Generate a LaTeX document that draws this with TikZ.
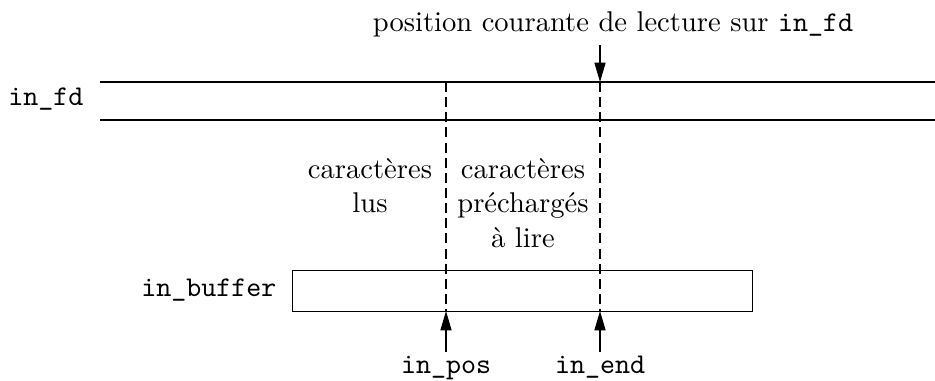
\documentclass[tikz,border=0pt]{standalone}
\usetikzlibrary{arrows.meta}
\begin{document}
\begin{tikzpicture}[x=0.35pt,y=-0.35pt,
  lbl/.style={inner sep=0pt,font=\ttfamily},
  txt/.style={inner sep=0pt,align=center},
  ptr/.style={-{Triangle[length=6.8pt,width=3.9pt]}},
  guide/.style={dash pattern=on 3.5pt off 1.8pt}]
\useasboundingbox (0,0) rectangle (935,380);
% in_fd stream
\coordinate (fdTL) at (100,82);
\coordinate (fdTR) at (935,82);
\coordinate (fdBL) at (100,120);
\coordinate (fdBR) at (935,120);
\draw (fdTL) -- (fdTR);
\draw (fdBL) -- (fdBR);
\node[lbl,anchor=base east] (infd) at (84,105) {in\_fd};
% top label and arrow
\node[txt,anchor=base] (pos) at (613,31) {position courante de lecture sur \texttt{in\_fd}};
\coordinate (arrTop) at (600,45);
\coordinate (posA) at (600,82);
\draw[ptr] (arrTop) -- (posA);
% buffer
\node[draw,minimum width=460*0.35pt,minimum height=41*0.35pt,inner sep=0pt,anchor=north west] (buf) at (292,270) {};
\node[lbl,anchor=base east] (inbuf) at (277,296) {in\_buffer};
% dashed guides
\coordinate (d1t) at (446,82);
\coordinate (d1b) at (446,311);
\coordinate (d2b) at (600,311);
\draw[guide] (d1t) -- (d1b);
\draw[guide] (posA) -- (d2b);
% text zones
\node[txt,anchor=north] (lus) at (370,158) {caractères\\lus};
\node[txt,anchor=north] (pre) at (523,158) {caractères\\préchargés\\à lire};
% bottom pointers
\node[lbl,anchor=base] (inpos) at (446,373) {in\_pos};
\node[lbl,anchor=base] (inend) at (600,373) {in\_end};
\coordinate (p1) at (446,352);
\coordinate (p2) at (600,352);
\draw[ptr] (p1) -- (d1b);
\draw[ptr] (p2) -- (d2b);
\end{tikzpicture}
\end{document}
